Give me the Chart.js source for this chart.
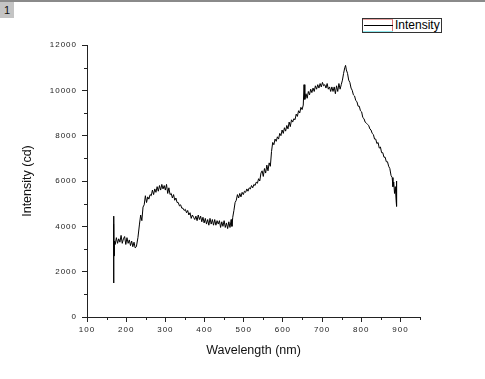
<!DOCTYPE html>
<html>
<head>
<meta charset="utf-8">
<script src="https://cdn.jsdelivr.net/npm/chart.js@4"></script>
<style>
  html, body { margin: 0; padding: 0; background: #fff; }
  #wrap { position: relative; width: 485px; height: 379px; overflow: hidden; background: #fff; }
  #topline { position: absolute; left: 0; top: 0; width: 485px; height: 2px; background: #8a8a8a; }
  #pagebox { position: absolute; left: 0; top: 2px; width: 14px; height: 16px; background: #c4c4c4;
             font: 11px "Liberation Sans", Arial, sans-serif; color: #111; text-align: center; line-height: 16px; }
  canvas { position: absolute; left: 0; top: 0; }
  #legend { position: absolute; left: 362px; top: 18px; width: 78px; height: 13px; border: 1px solid #333; background: #fff; }
  #lgSample { position: absolute; left: 0; top: 0; width: 30px; height: 13px; border-right: 1px solid #e07070; border-top: 1px solid #e8a0a0; box-sizing: border-box; }
  #lgLine { position: absolute; left: 1px; top: 6px; width: 29px; height: 1px; background: #000; }
  #lgCyan { position: absolute; left: 0; top: 12px; width: 30px; height: 1px; background: #8ee8ee; }
  #lgText { position: absolute; left: 32px; top: -1px; font: 12px "Liberation Sans", Arial, sans-serif; color: #000; line-height: 14px; }
</style>
</head>
<body>
<div id="wrap">
  <canvas id="c" width="485" height="379"></canvas>
  <div id="topline"></div>
  <div id="pagebox">1</div>
  <div id="legend"><div id="lgSample"></div><div id="lgLine"></div><div id="lgCyan"></div><div id="lgText">Intensity</div></div>
</div>
<script>
const seriesName = "Intensity";
const xTitle = "Wavelength (nm)";
const yTitle = "Intensity (cd)";
const xTicks = [100, 200, 300, 400, 500, 600, 700, 800, 900];
const yTicks = [0, 2000, 4000, 6000, 8000, 10000, 12000];

const wavelengths = [
  168, 168, 168.5, 169, 170, 172, 175, 178, 181, 184, 187, 190, 193, 196, 199, 202, 205, 208, 211, 214, 217, 220, 223, 226,
  230, 234, 237, 240, 243, 246, 249, 252, 255, 258, 261, 264, 267, 270, 273, 276, 279, 282, 285, 288, 291, 294, 297, 300,
  303, 306, 309, 312, 315, 318, 321, 324, 327, 330, 333, 336, 339, 342, 345, 348, 351, 354, 357, 360, 363, 366, 369, 372,
  375, 378, 381, 384, 387, 390, 393, 396, 399, 402, 405, 408, 411, 414, 417, 420, 423, 426, 429, 432, 435, 438, 441, 444,
  447, 450, 453, 456, 459, 462, 465, 468, 470, 472, 475, 478, 481, 484, 487, 490, 493, 496, 499, 502, 505, 508, 511, 514,
  517, 520, 523, 526, 529, 532, 535, 538, 541, 544, 547, 550, 553, 556, 559, 562, 565, 568, 571, 574, 577, 580, 583, 586,
  589, 592, 595, 598, 601, 604, 607, 610, 613, 616, 619, 622, 625, 628, 631, 634, 637, 640, 643, 646, 649, 652, 654, 656,
  659, 662, 665, 668, 671, 674, 677, 680, 683, 686, 689, 692, 695, 698, 701, 704, 707, 710, 713, 716, 719, 722, 725, 728,
  731, 734, 737, 740, 743, 746, 749, 752, 755, 758, 760, 762, 765, 768, 771, 774, 777, 780, 783, 786, 789, 792, 795, 798,
  801, 804, 807, 810, 813, 816, 819, 822, 825, 828, 831, 834, 837, 840, 843, 846, 849, 852, 855, 858, 861, 864, 867, 870,
  873, 876, 879, 881, 883, 885, 887, 889, 890, 890.5
];
const intensity = [
  4100, 1500, 4450, 2700, 3350, 3200, 3500, 3250, 3450, 3300, 3600, 3250, 3450, 3550, 3200, 3500, 3250, 3400, 3150, 3350, 3100, 3300, 3050, 3100,
  3500, 4100, 4500, 4250, 4850, 4950, 5350, 5050, 5300, 5200, 5400, 5350, 5600, 5400, 5650, 5500, 5750, 5550, 5800, 5600, 5850, 5650, 5800, 5600,
  5850, 5450, 5700, 5400, 5450, 5250, 5400, 5150, 5250, 5050, 5050, 4900, 4950, 4800, 4800, 4700, 4750, 4600, 4700, 4500, 4600, 4350, 4500, 4400,
  4300, 4450, 4250, 4500, 4300, 4450, 4200, 4400, 4150, 4350, 4100, 4300, 4050, 4350, 4100, 4300, 4050, 4300, 4050, 4250, 4100, 4250, 3950, 4200,
  4000, 4250, 3950, 4150, 3900, 4200, 3950, 4300, 4000, 4400, 4700, 5050, 5150, 5400, 5250, 5450, 5300, 5500, 5400, 5550, 5500, 5650, 5550, 5700,
  5650, 5800, 5700, 5850, 5800, 5950, 5900, 6100, 6000, 6350, 6450, 6200, 6550, 6350, 6700, 6450, 6800, 6650, 7300, 7700, 7600, 7850, 7750, 7950,
  7850, 8100, 8000, 8250, 8100, 8350, 8200, 8450, 8300, 8600, 8400, 8700, 8600, 8750, 8700, 8950, 8850, 9100, 9000, 9250, 9150, 9350, 10250, 9600,
  9850, 9650, 9950, 9800, 10050, 9900, 10100, 9950, 10200, 10050, 10250, 10100, 10300, 10150, 10350, 10200, 10250, 10100, 10300, 10050, 10150, 9950, 10150, 9950,
  10150, 9850, 10200, 9950, 10300, 10050, 10250, 10450, 10750, 11000, 11100, 10900, 10750, 10450, 10350, 10100, 10000, 9800, 9750, 9550, 9500, 9300, 9300, 9100,
  9050, 8800, 8750, 8600, 8550, 8500, 8450, 8300, 8250, 8100, 8050, 7850, 7850, 7650, 7700, 7450, 7500, 7250, 7250, 7050, 7050, 6850, 6850, 6650,
  6550, 6250, 6150, 5750, 5950, 5450, 5750, 5150, 6000, 4880
];

const points = wavelengths.map((w, i) => ({ x: w, y: intensity[i] }));
const axisColor = '#222';

// letter-spaced tick labels (Origin style)
const spacedLabels = {
  id: 'spacedLabels',
  afterLayout(chart) {
    ['x', 'y'].forEach(id => {
      const s = chart.scales[id];
      if (s && !s._spacedPatched) {
        const orig = s.drawLabels;
        s.drawLabels = function (a) {
          const c = this.ctx; c.save(); c.letterSpacing = '1px'; orig.call(this, a); c.restore();
        };
        s._spacedPatched = true;
      }
    });
  }
};

// minor ticks drawn from the library's scales
const minorTicks = {
  id: 'minorTicks',
  afterDraw(chart) {
    const { ctx, scales: { x, y } } = chart;
    ctx.save();
    ctx.strokeStyle = axisColor;
    ctx.lineWidth = 1;
    ctx.beginPath();
    for (let v = 150; v <= 950; v += 100) {
      const px = Math.round(x.getPixelForValue(v)) + 0.5;
      ctx.moveTo(px, y.bottom); ctx.lineTo(px, y.bottom + 3);
    }
    for (let v = 1000; v <= 11000; v += 2000) {
      const py = Math.round(y.getPixelForValue(v)) + 0.5;
      ctx.moveTo(x.left, py); ctx.lineTo(x.left - 3, py);
    }
    ctx.stroke();
    ctx.restore();
  }
};

new Chart(document.getElementById('c'), {
  type: 'line',
  data: {
    datasets: [{
      label: seriesName,
      data: points,
      borderColor: '#000',
      borderWidth: 1,
      pointRadius: 0,
      tension: 0,
      fill: false
    }]
  },
  options: {
    responsive: false,
    animation: false,
    layout: { padding: { top: 45, right: 65, left: 0, bottom: 0 } },
    plugins: { legend: { display: false }, tooltip: { enabled: false } },
    scales: {
      x: {
        type: 'linear',
        min: 100, max: 950,
        afterFit(s) { s.height = 62; },
        afterBuildTicks(s) { s.ticks = xTicks.map(v => ({ value: v })); },
        ticks: { autoSkip: false, maxRotation: 0, padding: 3, color: '#222',
                 callback: v => String(v),
                 font: { family: '"Liberation Sans", Arial, sans-serif', size: 8 } },
        grid: { drawOnChartArea: false, drawTicks: true, tickLength: 5, color: axisColor },
        border: { display: true, color: axisColor, width: 1 },
        title: { display: true, text: xTitle, color: '#111', padding: { top: 0, bottom: 21 },
                 font: { family: '"Liberation Sans", Arial, sans-serif', size: 12.5 } }
      },
      y: {
        min: 0, max: 12000,
        afterFit(s) { s.width = 87; },
        afterBuildTicks(s) { s.ticks = yTicks.map(v => ({ value: v })); },
        ticks: { padding: 5, color: '#222', callback: v => String(v),
                 font: { family: '"Liberation Sans", Arial, sans-serif', size: 8 } },
        grid: { drawOnChartArea: false, drawTicks: true, tickLength: 5, color: axisColor },
        border: { display: true, color: axisColor, width: 1 },
        title: { display: true, text: yTitle, color: '#111', padding: { top: 20, bottom: 0 },
                 font: { family: '"Liberation Sans", Arial, sans-serif', size: 12.5 } }
      }
    }
  },
  plugins: [spacedLabels, minorTicks]
});
</script>
</body>
</html>
